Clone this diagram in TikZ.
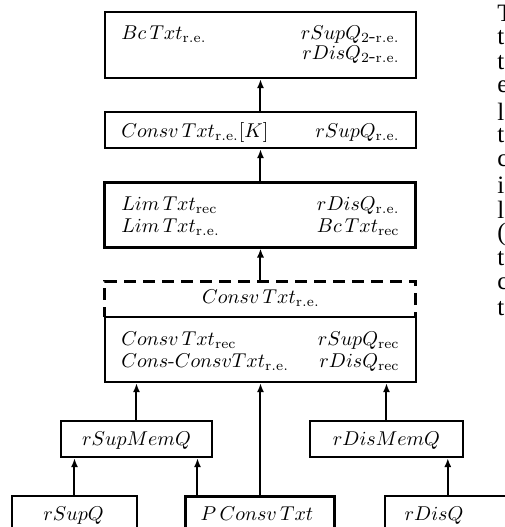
\documentclass[tikz,border=0pt]{standalone}
\usepackage{fontspec}
\newfontfamily\marginfont{Liberation Serif}
\usetikzlibrary{arrows.meta,calc}
\begin{document}
\begin{tikzpicture}[x=0.5pt,y=-0.5pt,
  box/.style={draw, line width=1.2pt, inner sep=0pt},
  thickbox/.style={box, line width=1.5pt},
  lbl/.style={inner sep=0pt, font=\normalsize},
  arr/.style={line width=1pt, -{Latex[length=4.5pt,width=3.6pt]}},
  dashbox/.style={draw, line width=1.5pt, dash pattern=on 6pt off 3.5pt, inner sep=0pt},
  mletter/.style={inner sep=0pt, anchor=west, font=\marginfont\fontsize{12.5}{14}\selectfont}]
\useasboundingbox (0,0) rectangle (505,527);
\clip (0,0) rectangle (505,527);

% boxes
\node[box, minimum width=155.5pt, minimum height=33pt] (b1) at (260.5,45) {};
\node[box, minimum width=155.5pt, minimum height=18pt] (b2) at (260.5,130) {};
\node[thickbox, minimum width=155.5pt, minimum height=32.5pt] (b3) at (260.5,214.5) {};
\node[dashbox, minimum width=155.5pt, minimum height=18pt] (bd) at (260.5,299) {};
\node[box, fill=white, minimum width=155.5pt, minimum height=32.5pt] (b4) at (260.5,349.5) {};
\node[box, minimum width=75.5pt, minimum height=18pt] (smem) at (136.5,439) {};
\node[box, minimum width=76.5pt, minimum height=18pt] (dmem) at (386.5,439) {};
\node[box, minimum width=62.5pt, minimum height=18pt] (sq) at (74.5,514) {};
\node[thickbox, minimum width=74.5pt, minimum height=18pt] (pc) at (260.5,514) {};
\node[box, minimum width=77.5pt, minimum height=18pt] (dq) at (462.5,514) {};

% labels
\node[lbl, anchor=base west] (l1a) at (121,39) {$Bc\,Txt_{\mathrm{r.e.}}$};
\node[lbl, anchor=base east] (l1b) at (400,39) {$rSupQ_{\mathrm{2\mbox{-}r.e.}}$};
\node[lbl, anchor=base east] (l1c) at (400,59) {$rDisQ_{\mathrm{2\mbox{-}r.e.}}$};

\node[lbl, anchor=base west] (l2a) at (121,137) {$Consv\,Txt_{\mathrm{r.e.}}[K]$};
\node[lbl, anchor=base east] (l2b) at (400,137) {$rSupQ_{\mathrm{r.e.}}$};

\node[lbl, anchor=base west] (l3a) at (121,210) {$Lim\,Txt_{\mathrm{rec}}$};
\node[lbl, anchor=base west] (l3b) at (121,232) {$Lim\,Txt_{\mathrm{r.e.}}$};
\node[lbl, anchor=base east] (l3c) at (400,210) {$rDisQ_{\mathrm{r.e.}}$};
\node[lbl, anchor=base east] (l3d) at (400,232) {$Bc\,Txt_{\mathrm{rec}}$};

\node[lbl, anchor=base] (ld) at (261,303) {$Consv\,Txt_{\mathrm{r.e.}}$};

\node[lbl, anchor=base west] (l4a) at (121,345) {$Consv\,Txt_{\mathrm{rec}}$};
\node[lbl, anchor=base west] (l4b) at (121,367) {$Cons\mbox{-}ConsvTxt_{\mathrm{r.e.}}$};
\node[lbl, anchor=base east] (l4c) at (400,345) {$rSupQ_{\mathrm{rec}}$};
\node[lbl, anchor=base east] (l4d) at (400,367) {$rDisQ_{\mathrm{rec}}$};

\node[lbl, anchor=base] (lsm) at (136.5,445) {$rSupMemQ$};
\node[lbl, anchor=base] (ldm) at (386.5,445) {$rDisMemQ$};
\node[lbl, anchor=base] (lsq) at (73.5,520) {$rSupQ$};
\node[lbl, anchor=base] (lpc) at (257,520) {$P\,Consv\,Txt$};
\node[lbl, anchor=base] (ldq) at (434,520) {$rDisQ$};

% arrows
\draw[arr] (b2.north) -- (b1.south);
\draw[arr] (b3.north) -- (b2.south);
\draw[arr] (bd.north) -- (b3.south);
\draw[arr] (smem.north) -- (smem.north |- b4.south);
\draw[arr] (dmem.north) -- (dmem.north |- b4.south);
\draw[arr] (pc.north) -- (b4.south);
\draw[arr] (sq.north) -- (sq.north |- smem.south);
\coordinate (pcs) at ($(pc.north west)+(13,0)$);
\draw[arr] (pcs) -- (pcs |- smem.south);
\coordinate (dqs) at ($(dq.north west)+(64,0)$);
\draw[arr] (dqs) -- (dqs |- dmem.south);

% fragments of page text at the right edge
\foreach \ch [count=\i] in {T,t,t,e,l,t,c,i,l,{(},t,c,t}{
  \node[mletter] (m\i) at (497,{13+24.6*(\i-1)}) {\ch};
}
\end{tikzpicture}
\end{document}
